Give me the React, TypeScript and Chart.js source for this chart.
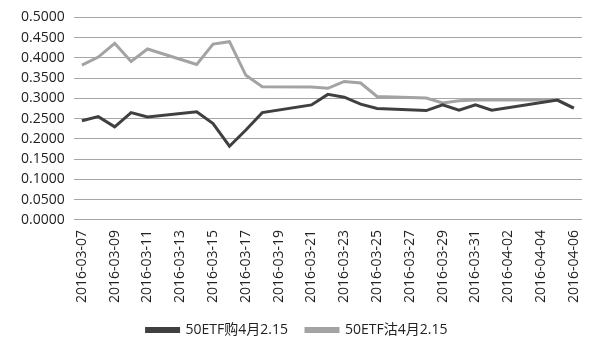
import React, { useEffect, useRef } from "react";
import { Chart, registerables } from "chart.js";

Chart.register(...registerables);

const dates: string[] = [
  "2016-03-07", "2016-03-08", "2016-03-09", "2016-03-10", "2016-03-11", "2016-03-12", "2016-03-13",
  "2016-03-14", "2016-03-15", "2016-03-16", "2016-03-17", "2016-03-18", "2016-03-19", "2016-03-20",
  "2016-03-21", "2016-03-22", "2016-03-23", "2016-03-24", "2016-03-25", "2016-03-26", "2016-03-27",
  "2016-03-28", "2016-03-29", "2016-03-30", "2016-03-31", "2016-04-01", "2016-04-02", "2016-04-03",
  "2016-04-04", "2016-04-05", "2016-04-06",
];

const callSeries: (number | null)[] = [
  0.245, 0.255, 0.230, 0.265, 0.254, null, null,
  0.267, 0.238, 0.182, 0.222, 0.265, null, null,
  0.284, 0.310, 0.303, 0.286, 0.275, null, null,
  0.270, 0.284, 0.271, 0.284, 0.271, null, null,
  null, 0.296, 0.276,
];

const putSeries: (number | null)[] = [
  0.382, 0.402, 0.436, 0.391, 0.422, null, null,
  0.384, 0.434, 0.440, 0.357, 0.329, null, null,
  0.328, 0.325, 0.342, 0.338, 0.305, null, null,
  0.301, 0.289, 0.294, 0.296, 0.296, null, null,
  null, 0.296, 0.276,
];

const seriesNames: string[] = ["50ETF购4月2.15", "50ETF沽4月2.15"];

export default function App() {
  const ref = useRef<HTMLCanvasElement | null>(null);

  useEffect(() => {
    document.body.style.margin = "0";
    const font = "'Open Sans', 'Noto Sans CJK SC', sans-serif";
    const chart = new Chart(ref.current as HTMLCanvasElement, {
      type: "line",
      data: {
        labels: dates,
        datasets: [
          {
            label: seriesNames[0],
            data: callSeries,
            borderColor: "#404040",
            backgroundColor: "#404040",
            borderWidth: 3,
            pointRadius: 0,
            spanGaps: true,
            tension: 0,
          },
          {
            label: seriesNames[1],
            data: putSeries,
            borderColor: "#a3a3a3",
            backgroundColor: "#a3a3a3",
            borderWidth: 3,
            pointRadius: 0,
            spanGaps: true,
            tension: 0,
          },
        ],
      },
      options: {
        animation: false,
        responsive: false,
        maintainAspectRatio: false,
        layout: { padding: { left: 12, right: 18, top: 15, bottom: 5 } },
        plugins: {
          tooltip: { enabled: false },
          legend: {
            position: "bottom",
            labels: {
              boxWidth: 32,
              boxHeight: 3,
              padding: 18,
              color: "#222",
              font: { family: font, size: 14 },
            },
          },
        },
        scales: {
          x: {
            offset: true,
            grid: { display: false },
            border: { display: false },
            ticks: {
              autoSkip: false,
              maxRotation: 90,
              minRotation: 90,
              padding: 2,
              color: "#222",
              font: { family: font, size: 14 },
              callback: (_v: any, i: number) => (i % 2 === 0 ? dates[i] : ""),
            },
          },
          y: {
            min: 0,
            max: 0.5,
            border: { display: false },
            grid: { color: "#a6a6a6", lineWidth: 1, drawTicks: false },
            ticks: {
              stepSize: 0.05,
              padding: 9,
              color: "#222",
              font: { family: font, size: 14 },
              callback: (v: any) => Number(v).toFixed(4),
            },
          },
        },
      },
    });
    return () => chart.destroy();
  }, []);

  return (
    <div style={{ width: 600, height: 352, background: "#fff" }}>
      <canvas ref={ref} width={600} height={352} style={{ display: "block" }} />
    </div>
  );
}
